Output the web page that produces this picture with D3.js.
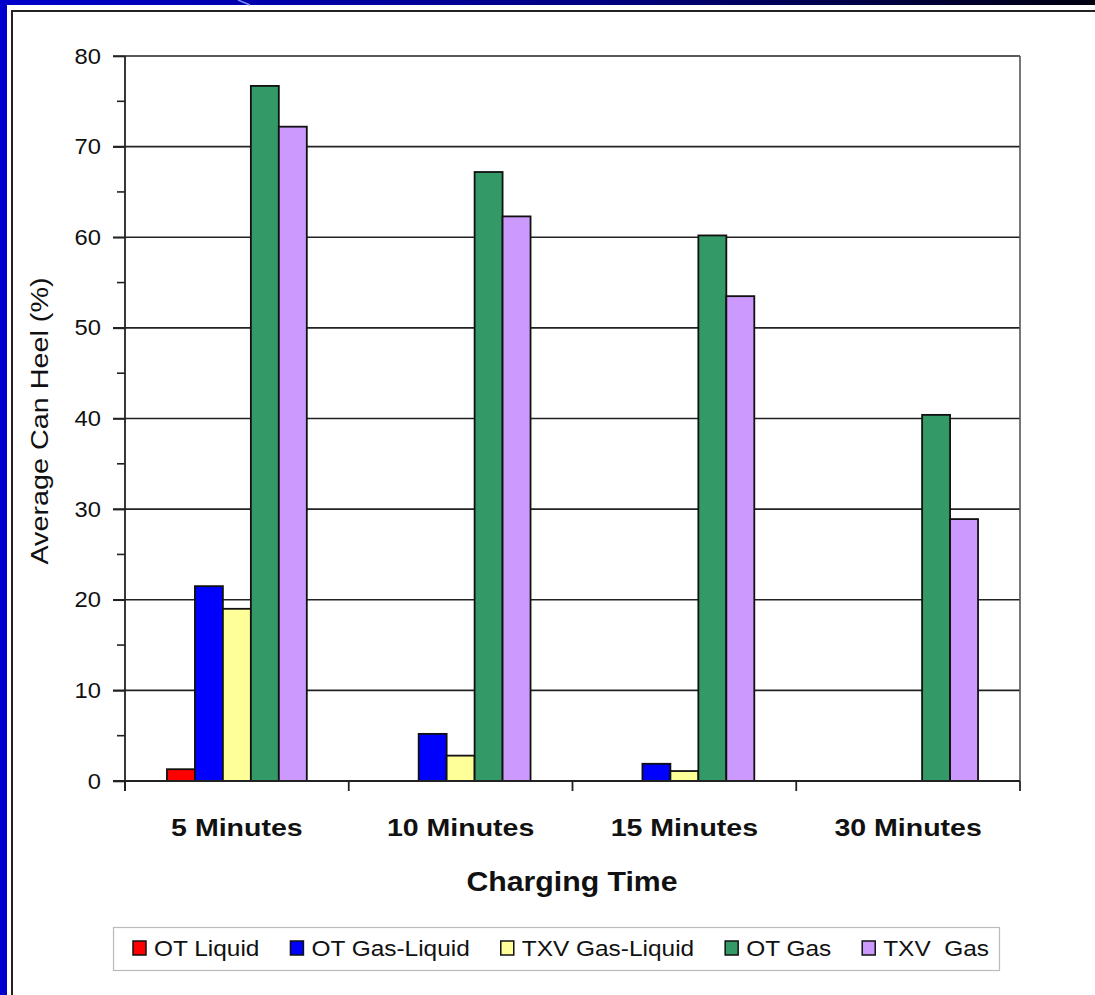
<!DOCTYPE html>
<html>
<head>
<meta charset="utf-8">
<script src="https://cdn.jsdelivr.net/npm/d3@7"></script>
<style>
  html, body { margin: 0; padding: 0; background: #fff; }
  svg { display: block; }
  text { font-family: "Liberation Sans", Arial, sans-serif; fill: #111; white-space: pre; }
</style>
</head>
<body>
<svg id="chart" width="1095" height="995"></svg>
<script>
// Average can heel by charging time, per charging method
const categories = ["5 Minutes", "10 Minutes", "15 Minutes", "30 Minutes"];
const seriesNames = ["OT Liquid", "OT Gas-Liquid", "TXV Gas-Liquid", "OT Gas", "TXV  Gas"];
const otLiquid     = [1.3, 0, 0, 0];
const otGasLiquid  = [21.5, 5.2, 1.9, 0];
const txvGasLiquid = [19.0, 2.8, 1.1, 0];
const otGas        = [76.7, 67.2, 60.2, 40.4];
const txvGas       = [72.2, 62.3, 53.5, 28.9];
const yTicks = [0, 10, 20, 30, 40, 50, 60, 70, 80];
const yMinorTicks = [5, 15, 25, 35, 45, 55, 65, 75];
const seriesColors = ["#ff0000", "#0000ff", "#ffff99", "#339966", "#cc99ff"];

const seriesValues = [otLiquid, otGasLiquid, txvGasLiquid, otGas, txvGas];

const svg = d3.select("#chart");

// stretch a text element horizontally by a factor of its natural width
function stretch(sel, k) {
  sel.each(function () {
    const w = this.getComputedTextLength();
    d3.select(this).attr("textLength", w * k).attr("lengthAdjust", "spacingAndGlyphs");
  });
}

// ---- slide frame ----
const defs = svg.append("defs");
const grad = defs.append("linearGradient").attr("id", "topbar").attr("x1", "0").attr("x2", "1");
grad.append("stop").attr("offset", "0").attr("stop-color", "#0000cc");
grad.append("stop").attr("offset", "0.55").attr("stop-color", "#000080");
grad.append("stop").attr("offset", "1").attr("stop-color", "#000010");
svg.append("rect").attr("x", 0).attr("y", 0).attr("width", 1095).attr("height", 5).attr("fill", "url(#topbar)");
svg.append("rect").attr("x", 0).attr("y", 0).attr("width", 7).attr("height", 995).attr("fill", "#0000cc");
svg.append("line").attr("x1", 238).attr("y1", 0).attr("x2", 250).attr("y2", 5)
  .attr("stroke", "#6f8cff").attr("stroke-width", 1.5);
svg.append("path").attr("d", "M12,995 V11 H1095").attr("fill", "none")
  .attr("stroke", "#222").attr("stroke-width", 2);

// ---- scales ----
const plot = { left: 125, right: 1020, top: 56, bottom: 781 };
const x = d3.scaleBand().domain(categories).range([plot.left, plot.right]).paddingInner(0).paddingOuter(0);
const bw = x.bandwidth();
const xs = d3.scaleBand().domain(d3.range(seriesNames.length)).range([bw * 1.5 / 8, bw * 6.5 / 8]);
const y = d3.scaleLinear().domain([0, 80]).range([plot.bottom, plot.top]);

// ---- gridlines ----
svg.append("g").selectAll("line").data(yTicks.filter(d => d > 0)).join("line")
  .attr("x1", plot.left - 12).attr("x2", plot.right)
  .attr("y1", d => y(d)).attr("y2", d => y(d))
  .attr("stroke", "#222").attr("stroke-width", 1.6);
svg.append("line").attr("x1", plot.right).attr("x2", plot.right)
  .attr("y1", plot.top).attr("y2", plot.bottom)
  .attr("stroke", "#555").attr("stroke-width", 1.6);

// ---- bars ----
const barG = svg.append("g");
seriesValues.forEach((vals, si) => {
  barG.append("g").selectAll("rect")
    .data(vals.map((v, i) => ({ v, c: categories[i] })).filter(d => d.v > 0))
    .join("rect")
    .attr("x", d => x(d.c) + xs(si))
    .attr("width", xs.bandwidth())
    .attr("y", d => y(d.v))
    .attr("height", d => y(0) - y(d.v))
    .attr("fill", seriesColors[si])
    .attr("stroke", "#111").attr("stroke-width", 1.8);
});

// ---- y axis ----
const yAxis = d3.axisLeft(y).tickValues(yTicks).tickSize(12).tickPadding(12).tickFormat(d3.format("d"));
const yg = svg.append("g").attr("transform", `translate(${plot.left},0)`).call(yAxis);
yg.select(".domain").remove();
yg.selectAll(".tick line").attr("stroke", "#222").attr("stroke-width", 1.6);
yg.selectAll(".tick text").attr("font-size", 22).attr("fill", "#111")
  .style("font-family", "Liberation Sans, Arial, sans-serif");
stretch(yg.selectAll(".tick text"), 1.08);
svg.append("g").selectAll("line").data(yMinorTicks).join("line")
  .attr("x1", plot.left - 8).attr("x2", plot.left)
  .attr("y1", d => y(d)).attr("y2", d => y(d))
  .attr("stroke", "#222").attr("stroke-width", 1.6);
svg.append("line").attr("x1", plot.left).attr("x2", plot.left)
  .attr("y1", plot.top).attr("y2", plot.bottom + 10)
  .attr("stroke", "#222").attr("stroke-width", 1.8);

// ---- x axis ----
svg.append("line").attr("x1", plot.left - 12).attr("x2", plot.right)
  .attr("y1", plot.bottom).attr("y2", plot.bottom)
  .attr("stroke", "#222").attr("stroke-width", 1.8);
const bounds = categories.map(c => x(c)).concat([plot.right]);
svg.append("g").selectAll("line").data(bounds).join("line")
  .attr("x1", d => d).attr("x2", d => d)
  .attr("y1", plot.bottom).attr("y2", plot.bottom + 10)
  .attr("stroke", "#222").attr("stroke-width", 1.8);
const catLabels = svg.append("g").selectAll("text").data(categories).join("text")
  .attr("x", d => x(d) + bw / 2).attr("y", 836)
  .attr("text-anchor", "middle").attr("font-size", 23).attr("font-weight", "bold")
  .text(d => d);
stretch(catLabels, 1.24);

// ---- axis titles ----
const xTitle = svg.append("text").attr("x", 572).attr("y", 891)
  .attr("text-anchor", "middle").attr("font-size", 28).attr("font-weight", "bold")
  .text("Charging Time");
stretch(xTitle, 1.08);
const yTitle = svg.append("text")
  .attr("transform", "translate(48,421) rotate(-90)")
  .attr("text-anchor", "middle").attr("font-size", 23)
  .text("Average Can Heel (%)");
stretch(yTitle, 1.25);

// ---- legend ----
const legend = svg.append("g");
legend.append("rect").attr("x", 113.5).attr("y", 927.5).attr("width", 886).attr("height", 43)
  .attr("fill", "#fff").attr("stroke", "#bbb").attr("stroke-width", 1.2);
let lx = 133;
seriesNames.forEach((name, i) => {
  legend.append("rect").attr("x", lx).attr("y", 941).attr("width", 13).attr("height", 14)
    .attr("fill", seriesColors[i]).attr("stroke", "#111").attr("stroke-width", 1.5);
  const t = legend.append("text").attr("x", lx + 21).attr("y", 956)
    .attr("font-size", 22).text(name);
  const w = t.node().getComputedTextLength() * 1.11;
  t.attr("textLength", w).attr("lengthAdjust", "spacingAndGlyphs");
  lx += 21 + w + 31;
});
</script>
</body>
</html>
